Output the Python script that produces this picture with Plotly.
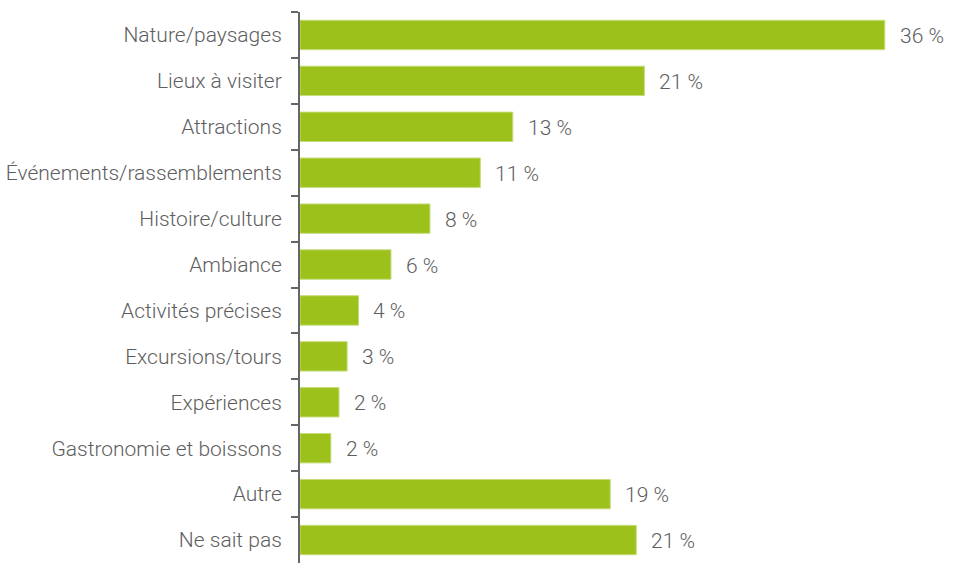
import plotly.graph_objects as go

# Share of respondents by answer category (%)
categories = [
    "Nature/paysages",
    "Lieux à visiter",
    "Attractions",
    "Événements/rassemblements",
    "Histoire/culture",
    "Ambiance",
    "Activités précises",
    "Excursions/tours",
    "Expériences",
    "Gastronomie et boissons",
    "Autre",
    "Ne sait pas",
]
values = [36.0, 21.2, 13.1, 11.1, 8.0, 5.6, 3.6, 2.9, 2.4, 1.9, 19.1, 20.7]

bar_color = "#9CC11A"
text_color = "#5E5E5E"
font_family = "Roboto, Liberation Sans, Arial, sans-serif"
font_size = 21

fig = go.Figure(
    go.Bar(
        x=values,
        y=categories,
        orientation="h",
        marker=dict(color=bar_color, line=dict(color="#C5DC7A", width=1)),
        width=0.64,
        hoverinfo="skip",
    )
)

# Value labels placed just to the right of each bar
for cat, v in zip(categories, values):
    fig.add_annotation(
        x=v,
        y=cat,
        text=f"{v:.0f} %",
        showarrow=False,
        xanchor="left",
        xshift=13,
        yshift=-1,
        font=dict(size=font_size, color=text_color, family=font_family, weight=300),
    )

fig.update_layout(
    width=953,
    height=563,
    margin=dict(l=300, r=0, t=12, b=0),
    paper_bgcolor="white",
    plot_bgcolor="white",
    showlegend=False,
    font=dict(family=font_family, size=font_size, color=text_color, weight=300),
)

fig.update_xaxes(
    range=[0, 40.2],
    visible=False,
    showgrid=False,
    zeroline=False,
)

fig.update_yaxes(
    autorange="reversed",
    type="category",
    showline=True,
    linecolor="#666666",
    linewidth=2,
    ticks="outside",
    tickson="boundaries",
    ticklen=7,
    tickwidth=2,
    tickcolor="#666666",
    showgrid=False,
    ticklabelstandoff=12,
    tickfont=dict(size=font_size, color=text_color, family=font_family, weight=300),
)

fig.write_html("out.html")
